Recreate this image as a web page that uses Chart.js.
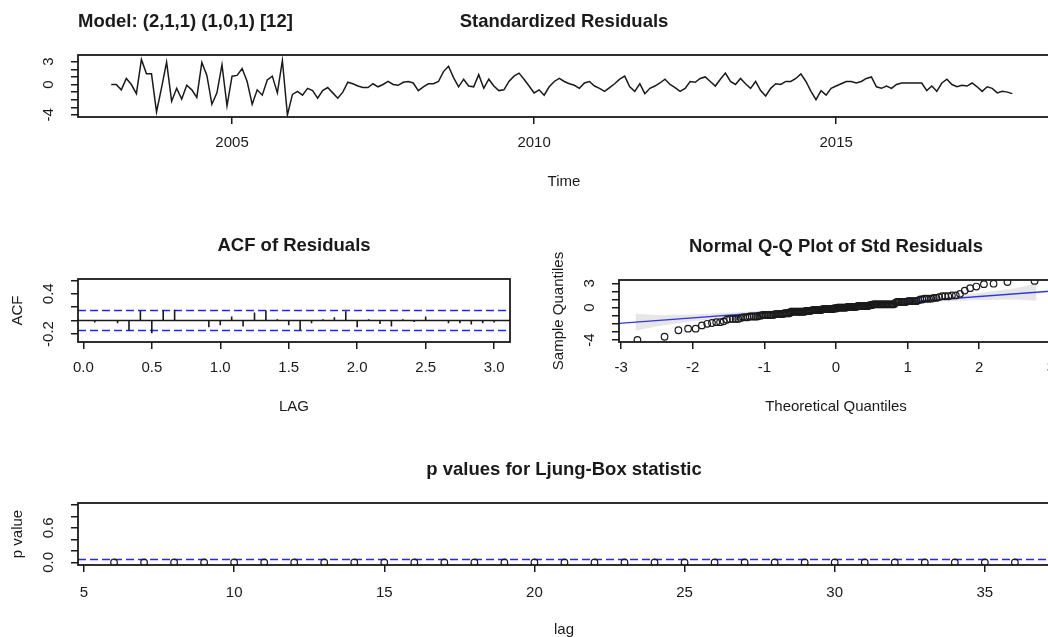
<!DOCTYPE html>
<html>
<head>
<meta charset="utf-8">
<script src="https://cdn.jsdelivr.net/npm/chart.js@4.4.1/dist/chart.umd.min.js"></script>
<style>
html, body { margin: 0; padding: 0; background: #fff; width: 1048px; height: 637px; overflow: hidden; }
canvas { position: absolute; }
</style>
</head>
<body>
<canvas id="resid"></canvas>
<canvas id="acf"></canvas>
<canvas id="qq"></canvas>
<canvas id="lb"></canvas>
<script>
// monthly standardized residuals, Jan 2003 .. Dec 2017
const residStart = 2003;
const residuals = [
    0.0, 0.0, -0.7, 0.8, 0.0, -1.2, 3.3, 1.4, 1.4, -3.6, -0.4, 2.95,
    -2.2, -0.5, -1.9, -0.1, -0.7, -1.7, 2.9, 1.2, -2.6, -1.1, 2.6, -2.8,
    1.1, 1.2, 2.1, 0.4, -2.6, -0.7, -1.4, 0.6, 1.1, -1.1, 3.15, -4.0,
    -1.3, -0.9, -1.4, -0.5, -0.8, -1.8, -0.8, -0.4, -1.1, -1.8,
    -1.0, 0.3, 0.1, -0.2, -0.4, -0.4, 0.1, -0.3, 0.0, 0.4,
    0.0, -0.1, 0.3, 0.4, 0.2, -0.8, -0.3, 0.1, 0.1, 0.4,
    1.7, 2.4, 0.9, -0.3, 0.7, -0.2, -0.3, 1.3, -0.5, 0.7,
    -0.2, -0.8, -0.7, 0.4, 1.1, 1.5, 0.7, -0.2, -1.1, -0.7,
    -1.4, -0.3, 0.4, 0.8, 0.4, 0.1, -0.1, -0.5, 0.2, 0.4,
    -0.2, -0.5, -0.9, -0.4, 0.1, 0.7, 1.1, -0.3, -0.9, 0.1,
    -1.2, -0.5, -0.2, 0.2, 0.7, 0.0, -0.4, -0.9, -0.5, 0.4,
    0.3, 0.8, 1.0, 0.4, -0.2, 0.7, 1.5, 0.4, 0.0, 0.8,
    0.1, -0.5, 0.4, -0.8, -1.5, -0.5, 0.1, 0.0, 0.4, 0.4,
    0.8, 1.4, 0.4, -0.9, -2.0, -0.8, -1.4, -0.5, -0.2, 0.1,
    0.4, 0.4, 0.2, 0.4, 0.8, 1.0, -0.3, -0.5, -0.2, -0.5,
    0.0, 0.2, 0.2, 0.2, 0.2, 0.2, -0.8, -0.2, -0.9, 0.2,
    0.7, 0.0, -0.3, -0.1, -0.2, 0.2, -0.3, -0.9, -0.3, -0.5,
    -1.1, -0.9, -1.0, -1.2
];

const acfLagMonths = [1, 2, 3, 4, 5, 6, 7, 8, 9, 10, 11, 12, 13, 14, 15, 16, 17, 18,
    19, 20, 21, 22, 23, 24, 25, 26, 27, 28, 29, 30, 31, 32, 33, 34, 35, 36];
const acfValues = [-0.03, 0.01, -0.04, -0.15, 0.15, -0.19, 0.15, 0.16, 0.01, 0.01, -0.10, -0.07,
    0.06, -0.09, 0.12, 0.15, 0.02, -0.07, -0.15, -0.04, 0.02, 0.05, 0.14, -0.10,
    0.02, -0.05, -0.09, 0.02, -0.02, 0.06, 0.00, -0.04, -0.04, -0.06, -0.04, -0.03];
const acfBound = 0.149;

// reference line and grey envelope of the Q-Q plot
const qqLineIntercept = 0.05;
const qqLineSlope = 0.66;
const qqBandX =    [-2.8, -2.5, -2.0, -1.5, -1.0, -0.5, 0.0, 0.5, 1.0, 1.5, 2.0, 2.5, 2.8];
const qqBandHigh = [-0.75, -0.9, -0.85, -0.64, -0.39, -0.09, 0.23, 0.57, 0.93, 1.34, 1.79, 2.4, 2.95];
const qqBandLow =  [-2.85, -2.3, -1.69, -1.24, -0.83, -0.47, -0.13, 0.19, 0.49, 0.74, 0.95, 1.0, 0.85];

const lbLags = [6, 7, 8, 9, 10, 11, 12, 13, 14, 15, 16, 17, 18, 19, 20, 21, 22, 23, 24, 25,
    26, 27, 28, 29, 30, 31, 32, 33, 34, 35, 36];
const lbPValues = [0, 0, 0, 0, 0, 0, 0, 0, 0, 0, 0, 0, 0, 0, 0, 0, 0, 0, 0, 0,
    0, 0, 0, 0, 0, 0, 0, 0, 0, 0, 0];
const lbLevel = 0.05;

// ticks
const residTicksX = [2005, 2010, 2015];
const residTicksY = [-4, -3, -2, -1, 0, 1, 2, 3];
const residLabelsY = [-4, 0, 3];
const acfTicksX = [0, 0.5, 1, 1.5, 2, 2.5, 3];
const acfTicksY = [-0.2, 0, 0.2, 0.4, 0.6];
const acfLabelsY = [-0.2, 0.4];
const qqTicksX = [-3, -2, -1, 0, 1, 2, 3];
const qqTicksY = [-4, -3, -2, -1, 0, 1, 2, 3];
const qqLabelsY = [-4, 0, 3];
const lbTicksX = [5, 10, 15, 20, 25, 30, 35];
const lbTicksY = [0, 0.2, 0.4, 0.6, 0.8, 1];
const lbLabelsY = [0, 0.6];

const ink = '#1a1a1a';
const blue = '#2626ff';
const family = '"Liberation Sans", Arial, sans-serif';
Chart.defaults.font.family = family;
Chart.defaults.color = ink;

// inverse normal cdf (Acklam) for the theoretical quantiles
function qnorm(p) {
    const a = [-39.69683028665376, 220.9460984245205, -275.9285104469687, 138.3577518672690, -30.66479806614716, 2.506628277459239];
    const b = [-54.47609879822406, 161.5858368580409, -155.6989798598866, 66.80131188771972, -13.28068155288572];
    const c = [-0.007784894002430293, -0.3223964580411365, -2.400758277161838, -2.549732539343734, 4.374664141464968, 2.938163982698783];
    const d = [0.007784695709041462, 0.3224671290700398, 2.445134137142996, 3.754408661907416];
    const lo = 0.02425;
    if (p < lo || p > 1 - lo) {
        const q = Math.sqrt(-2 * Math.log(p < lo ? p : 1 - p));
        const v = (((((c[0] * q + c[1]) * q + c[2]) * q + c[3]) * q + c[4]) * q + c[5]) /
            ((((d[0] * q + d[1]) * q + d[2]) * q + d[3]) * q + 1);
        return p < lo ? v : -v;
    }
    const q = p - 0.5, r = q * q;
    return (((((a[0] * r + a[1]) * r + a[2]) * r + a[3]) * r + a[4]) * r + a[5]) * q /
        (((((b[0] * r + b[1]) * r + b[2]) * r + b[3]) * r + b[4]) * r + 1);
}

// frame, rotated y labels and titles, R style
const frame = (deco) => ({
    id: 'frame',
    afterDraw(chart) {
        const { ctx, chartArea: a } = chart;
        const ys = chart.scales.y;
        ctx.save();
        ctx.strokeStyle = ink;
        ctx.lineWidth = 1.8;
        ctx.strokeRect(a.left, a.top, a.right - a.left, a.bottom - a.top);
        ctx.fillStyle = ink;
        ctx.textAlign = 'center';
        ctx.textBaseline = 'middle';
        ctx.font = '15px ' + family;
        deco.yLabels.forEach(v => {
            ctx.save();
            ctx.translate(a.left - 29, ys.getPixelForValue(v));
            ctx.rotate(-Math.PI / 2);
            ctx.fillText(deco.yFmt(v), 0, 0);
            ctx.restore();
        });
        const cx = (a.left + a.right) / 2;
        if (deco.xlab) ctx.fillText(deco.xlab, cx, a.bottom + 65);
        if (deco.ylab) {
            ctx.save();
            ctx.translate(a.left - 60, (a.top + a.bottom) / 2);
            ctx.rotate(-Math.PI / 2);
            ctx.fillText(deco.ylab, 0, 0);
            ctx.restore();
        }
        ctx.font = 'bold 18.5px ' + family;
        ctx.fillText(deco.title, cx, a.top - 33);
        if (deco.note) {
            ctx.textAlign = 'left';
            ctx.fillText(deco.note, a.left, a.top - 33);
        }
        ctx.restore();
    }
});

function axis(s, horizontal, size, pad) {
    return {
        type: 'linear',
        min: s.min,
        max: s.max,
        afterBuildTicks: sc => { sc.ticks = s.ticks.map(v => ({ value: v })); },
        afterFit: sc => { if (horizontal) sc.height = size; else sc.width = size; },
        grid: { drawOnChartArea: false, drawTicks: true, tickLength: 7, color: ink, lineWidth: 1.5 },
        border: { display: false },
        ticks: horizontal
            ? { padding: pad, color: ink, font: { size: 15 }, maxRotation: 0, autoSkip: false, callback: v => s.fmt(v) }
            : { display: false }
    };
}

function panel(id, rect, box, datasets, xs, ys, deco, pad) {
    const el = document.getElementById(id);
    el.width = rect.w;
    el.height = rect.h;
    el.style.left = rect.x + 'px';
    el.style.top = rect.y + 'px';
    return new Chart(el, {
        type: 'scatter',
        data: { datasets },
        options: {
            responsive: false,
            animation: false,
            events: [],
            layout: { padding: { left: 0, bottom: 0, top: box.t - rect.y, right: rect.x + rect.w - box.r } },
            plugins: { legend: { display: false }, tooltip: { enabled: false } },
            scales: {
                x: axis(xs, true, rect.y + rect.h - box.b, pad),
                y: axis(ys, false, box.l - rect.x)
            }
        },
        plugins: [frame(deco)]
    });
}

const fmt1 = v => v.toFixed(1);
const fmt0 = v => String(v);
const flat = (x0, x1, y, color, dash) => ({
    data: [{ x: x0, y: y }, { x: x1, y: y }],
    showLine: true, pointRadius: 0, borderColor: color, borderWidth: 1.6, borderDash: dash
});

// 1. standardized residuals
panel('resid', { x: 0, y: 0, w: 1060, h: 200 }, { l: 78, t: 55, r: 1050, b: 117 }, [{
    data: residuals.map((v, i) => ({ x: residStart + i / 12, y: v })),
    showLine: true, pointRadius: 0, borderColor: ink, borderWidth: 1.5, tension: 0
}],
    { min: 2002.45, max: 2018.54, ticks: residTicksX, fmt: fmt0 },
    { min: -4.27, max: 3.88, ticks: residTicksY },
    { title: 'Standardized Residuals', note: 'Model: (2,1,1) (1,0,1) [12]', xlab: 'Time', yLabels: residLabelsY, yFmt: fmt0 }, 10);

// 2. ACF of residuals
const acfSticks = [];
acfLagMonths.forEach((m, i) => {
    acfSticks.push({ x: m / 12, y: 0 }, { x: m / 12, y: acfValues[i] }, { x: m / 12, y: null });
});
const acfMin = -0.039, acfMax = 3.116;
panel('acf', { x: 0, y: 225, w: 530, h: 200 }, { l: 78, t: 279, r: 510, b: 342 }, [
    { data: acfSticks, showLine: true, spanGaps: false, pointRadius: 0, borderColor: ink, borderWidth: 1.6 },
    flat(acfMin, acfMax, 0, ink, []),
    flat(acfMin, acfMax, acfBound, blue, [8, 4]),
    flat(acfMin, acfMax, -acfBound, blue, [8, 4])
],
    { min: acfMin, max: acfMax, ticks: acfTicksX, fmt: fmt1 },
    { min: -0.32, max: 0.62, ticks: acfTicksY },
    { title: 'ACF of Residuals', xlab: 'LAG', ylab: 'ACF', yLabels: acfLabelsY, yFmt: fmt1 }, 10);

// 3. normal Q-Q plot of the residuals
const sorted = residuals.slice().sort((p, q) => p - q);
const qqPoints = sorted.map((v, i) => ({ x: qnorm((i + 0.5) / sorted.length), y: v }));
const qqMin = -3.03, qqMax = 3.03;
panel('qq', { x: 530, y: 225, w: 540, h: 200 }, { l: 619, t: 280, r: 1053, b: 342 }, [
    { data: qqPoints, pointRadius: 3.3, pointBorderWidth: 1.2, pointBorderColor: ink, pointBackgroundColor: 'rgba(0,0,0,0)' },
    {
        data: [qqMin, qqMax].map(x => ({ x: x, y: qqLineIntercept + qqLineSlope * x })),
        showLine: true, pointRadius: 0, borderColor: '#3434e0', borderWidth: 1.4
    },
    {
        data: qqBandX.map((x, i) => ({ x: x, y: qqBandHigh[i] })),
        showLine: true, pointRadius: 0, borderWidth: 0, borderColor: 'rgba(0,0,0,0)',
        backgroundColor: '#e6e6e6', fill: '+1'
    },
    {
        data: qqBandX.map((x, i) => ({ x: x, y: qqBandLow[i] })),
        showLine: true, pointRadius: 0, borderWidth: 0, borderColor: 'rgba(0,0,0,0)'
    }
],
    { min: qqMin, max: qqMax, ticks: qqTicksX, fmt: fmt0 },
    { min: -4.25, max: 3.41, ticks: qqTicksY },
    { title: 'Normal Q-Q Plot of Std Residuals', xlab: 'Theoretical Quantiles', ylab: 'Sample Quantiles', yLabels: qqLabelsY, yFmt: fmt0 }, 10);

// 4. Ljung-Box p values
const lbMin = 4.8, lbMax = 37.17;
panel('lb', { x: 0, y: 440, w: 1060, h: 197 }, { l: 78, t: 503, r: 1050, b: 565 }, [
    {
        data: lbLags.map((l, i) => ({ x: l, y: lbPValues[i] })),
        pointRadius: 3.3, pointBorderWidth: 1.2, pointBorderColor: ink, pointBackgroundColor: 'rgba(0,0,0,0)'
    },
    flat(lbMin, lbMax, lbLevel, blue, [8, 4])
],
    { min: lbMin, max: lbMax, ticks: lbTicksX, fmt: fmt0 },
    { min: -0.045, max: 1.03, ticks: lbTicksY },
    { title: 'p values for Ljung-Box statistic', xlab: 'lag', ylab: 'p value', yLabels: lbLabelsY, yFmt: fmt1 }, 12);
</script>
</body>
</html>
